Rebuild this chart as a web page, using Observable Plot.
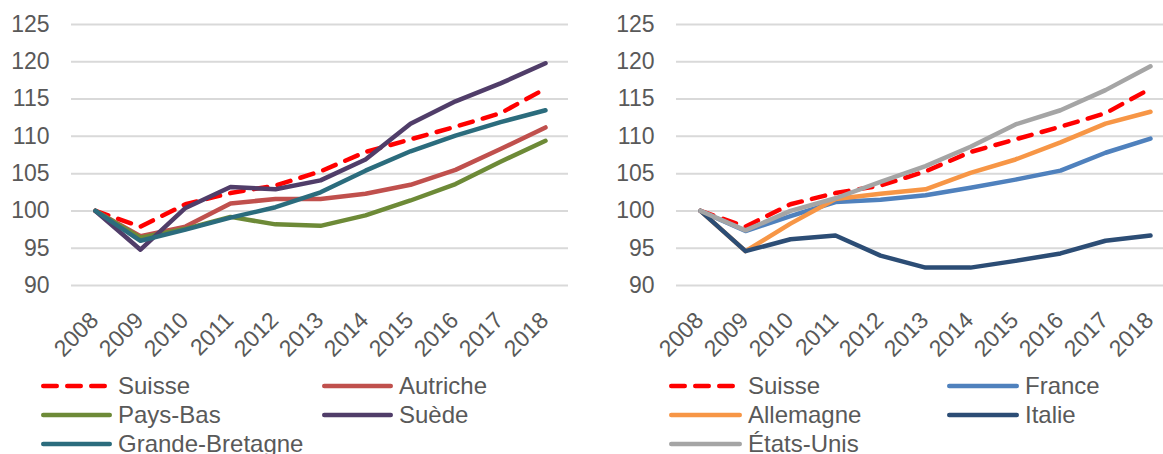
<!DOCTYPE html>
<html>
<head>
<meta charset="utf-8">
<script src="https://cdn.jsdelivr.net/npm/d3@7"></script>
<script src="https://cdn.jsdelivr.net/npm/@observablehq/plot@0.6"></script>
<style>
  body { margin: 0; background: #fff; overflow: hidden; font-family: "Liberation Sans", Arial, sans-serif; }
  #page { position: relative; width: 1163px; height: 454px; overflow: hidden; }
  .panel { position: absolute; top: 0; height: 360px; overflow: hidden; }
  .panel svg { max-width: none !important; height: 360px !important; }
  .item { position: absolute; display: flex; align-items: center; height: 28px; font-size: 24px; color: #595959; white-space: nowrap; }
  .item svg { display: block; overflow: visible; }
</style>
</head>
<body>
<div id="page"></div>
<script>
// Index 2008 = 100
const years = [2008, 2009, 2010, 2011, 2012, 2013, 2014, 2015, 2016, 2017, 2018];
const yTicks = [90, 95, 100, 105, 110, 115, 120, 125];

const suisse         = [100, 97.9, 100.9, 102.4, 103.4, 105.3, 107.9, 109.6, 111.3, 113.1, 116.4];
const autriche       = [100, 96.6, 97.9, 101.0, 101.6, 101.6, 102.3, 103.5, 105.5, 108.3, 111.2];
const paysBas        = [100, 96.4, 97.6, 99.2, 98.2, 98.0, 99.4, 101.4, 103.6, 106.6, 109.4];
const suede          = [100, 94.8, 100.4, 103.2, 102.9, 104.1, 106.9, 111.7, 114.7, 117.1, 119.8];
const grandeBretagne = [100, 96.0, 97.5, 99.1, 100.5, 102.5, 105.4, 108.0, 110.1, 111.9, 113.5];

const france    = [100, 97.3, 99.3, 101.2, 101.5, 102.1, 103.1, 104.2, 105.4, 107.8, 109.7];
const allemagne = [100, 94.6, 98.3, 101.6, 102.3, 102.9, 105.1, 106.9, 109.2, 111.7, 113.3];
const italie    = [100, 94.6, 96.2, 96.7, 94.0, 92.4, 92.4, 93.3, 94.3, 96.0, 96.7];
const etatsUnis = [100, 97.4, 100.0, 101.7, 103.9, 106.0, 108.6, 111.6, 113.5, 116.2, 119.4];

const leftSeries = [
  {name: "Suisse", values: suisse, color: "#ff0000", dashed: true},
  {name: "Autriche", values: autriche, color: "#c0504d"},
  {name: "Pays-Bas", values: paysBas, color: "#6d8a37"},
  {name: "Suède", values: suede, color: "#503d69"},
  {name: "Grande-Bretagne", values: grandeBretagne, color: "#2b6c7d"}
];
const rightSeries = [
  {name: "Suisse", values: suisse, color: "#ff0000", dashed: true},
  {name: "France", values: france, color: "#4f81bd"},
  {name: "Allemagne", values: allemagne, color: "#f79646"},
  {name: "Italie", values: italie, color: "#2c4d75"},
  {name: "États-Unis", values: etatsUnis, color: "#a5a5a5"}
];

const textColor = "#595959";
const dash = "13.5,10.5";

function chart(series, {width, marginLeft, marginRight}) {
  const svg = Plot.plot({
    width, height: 360,
    marginTop: 24, marginBottom: 75, marginLeft, marginRight,
    style: {fontFamily: "Liberation Sans, Arial, sans-serif", fontSize: "23px", color: textColor, background: "#fff", overflow: "visible"},
    x: {type: "point", domain: years, padding: 0.5},
    y: {domain: [90, 125]},
    marks: [
      Plot.ruleY(yTicks, {stroke: "#d9d9d9", strokeWidth: 2}),
      Plot.axisY({ticks: yTicks, tickSize: 0, tickPadding: 22, fontSize: 23, fill: textColor, label: null}),
      Plot.axisX({tickSize: 0, tickRotate: -45, tickPadding: 31, dx: -1, fontSize: 23, fill: textColor, label: null, tickFormat: d => `${d}`}),
      ...series.map(s => Plot.line(years.map((year, i) => ({year, value: s.values[i]})), {
        x: "year", y: "value", stroke: s.color, strokeWidth: 4.5,
        strokeLinecap: "round", strokeLinejoin: "round",
        strokeDasharray: s.dashed ? dash : null
      }))
    ]
  });
  svg.style.maxWidth = "none";
  return svg;
}

function legend(series, cols) {
  // two entries per row; each column gives swatch start/end and text start
  const rowY = [386, 415, 444];
  const frag = document.createDocumentFragment();
  series.forEach((s, i) => {
    const col = cols[i % 2];
    const cy = rowY[Math.floor(i / 2)];
    const el = document.createElement("div");
    el.className = "item";
    el.style.left = `${col.sx1}px`;
    el.style.top = `${cy - 14}px`;
    const w = col.sx2 - col.sx1;
    const svg = d3.create("svg").attr("width", col.tx - col.sx1).attr("height", 28);
    svg.append("line")
      .attr("x1", 2.25).attr("x2", w - 2.25).attr("y1", 14).attr("y2", 14)
      .attr("stroke", s.color).attr("stroke-width", 4.5).attr("stroke-linecap", "round")
      .attr("stroke-dasharray", s.dashed ? dash : null);
    el.appendChild(svg.node());
    const span = document.createElement("span");
    span.textContent = s.name;
    el.appendChild(span);
    frag.appendChild(el);
  });
  return frag;
}

const page = document.getElementById("page");

const left = document.createElement("div");
left.className = "panel";
left.style.left = "0px";
left.style.width = "583px";
left.appendChild(chart(leftSeries, {width: 583, marginLeft: 71, marginRight: 15}));
page.appendChild(left);

const right = document.createElement("div");
right.className = "panel";
right.style.left = "583px";
right.style.width = "580px";
right.appendChild(chart(rightSeries, {width: 590, marginLeft: 93, marginRight: 0}));
page.appendChild(right);

page.appendChild(legend(leftSeries, [{sx1: 41, sx2: 112, tx: 118}, {sx1: 322, sx2: 393, tx: 399}]));
page.appendChild(legend(rightSeries, [{sx1: 669, sx2: 742, tx: 748}, {sx1: 947, sx2: 1019, tx: 1025}]));
</script>
</body>
</html>
